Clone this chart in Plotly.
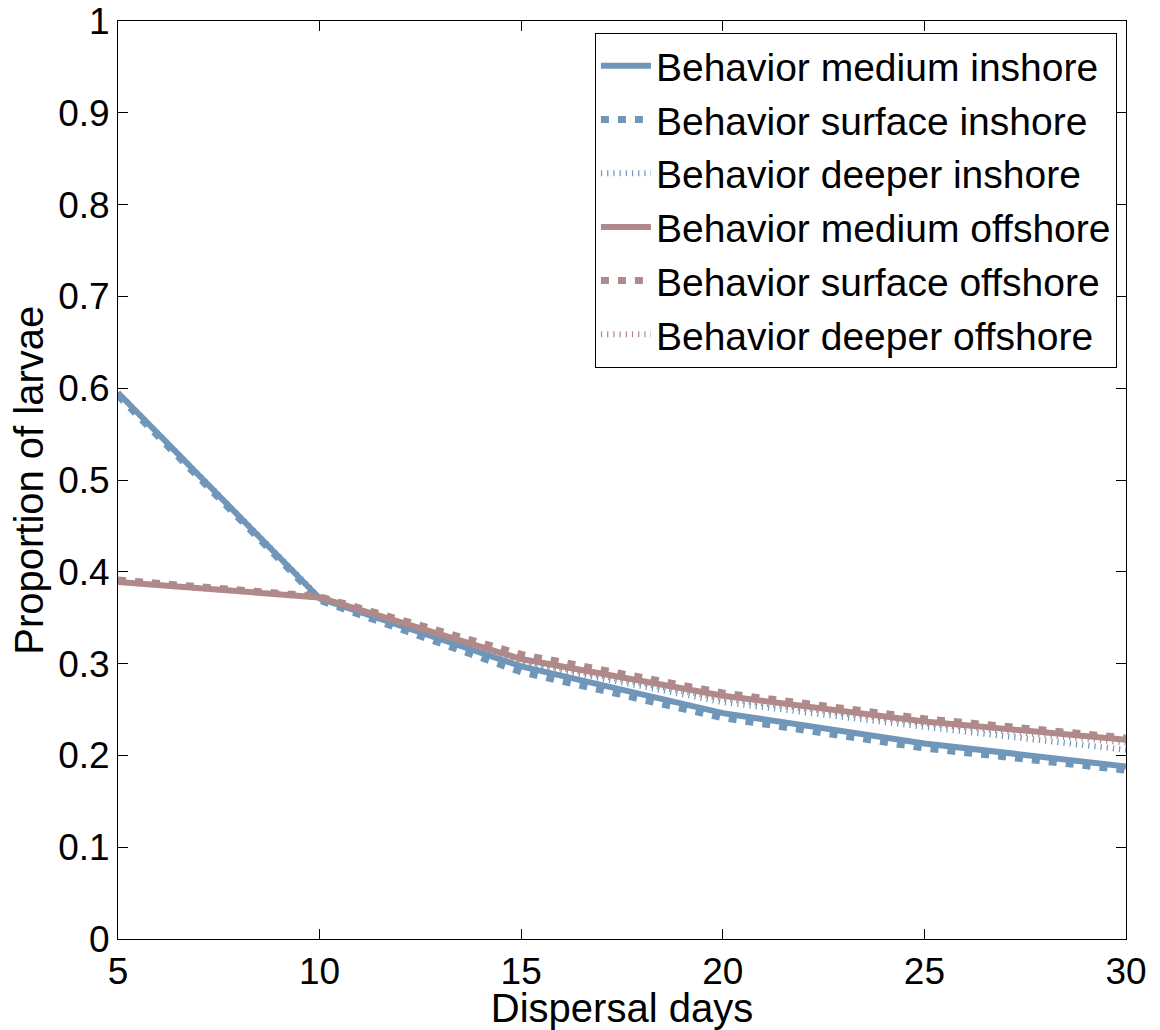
import plotly.graph_objects as go

days = [5, 10, 15, 20, 25, 30]
medium_inshore = [0.595, 0.371, 0.297, 0.246, 0.213, 0.188]
surface_inshore = [0.592, 0.369, 0.291, 0.241, 0.208, 0.184]
deeper_inshore = [0.595, 0.372, 0.301, 0.258, 0.231, 0.206]
medium_offshore = [0.389, 0.372, 0.305, 0.265, 0.237, 0.217]
surface_offshore = [0.391, 0.373, 0.310, 0.268, 0.240, 0.219]
deeper_offshore = [0.389, 0.372, 0.303, 0.262, 0.235, 0.214]

y_ticks = [0, 0.1, 0.2, 0.3, 0.4, 0.5, 0.6, 0.7, 0.8, 0.9, 1]
y_ticktext = ["0", "0.1", "0.2", "0.3", "0.4", "0.5", "0.6", "0.7", "0.8", "0.9", "1"]
x_ticks = [5, 10, 15, 20, 25, 30]

BLUE = "rgb(112,151,186)"
RED = "rgb(176,138,138)"
FONT = "Liberation Sans, Arial, sans-serif"

series = [
    ("Behavior medium inshore", medium_inshore, BLUE, "solid", 6),
    ("Behavior surface inshore", surface_inshore, BLUE, "8px,9px", 7),
    ("Behavior deeper inshore", deeper_inshore, BLUE, "1.2px,5px", 6),
    ("Behavior medium offshore", medium_offshore, RED, "solid", 6),
    ("Behavior surface offshore", surface_offshore, RED, "8px,9px", 7),
    ("Behavior deeper offshore", deeper_offshore, RED, "1.2px,5px", 6),
]

fig = go.Figure()
for name, vals, color, dash, w in series:
    fig.add_trace(go.Scatter(
        x=days, y=vals, mode="lines", name=name,
        line=dict(color=color, dash=dash, width=w),
    ))

axis_common = dict(
    showgrid=False, zeroline=False, showline=True, linecolor="black",
    linewidth=1, mirror="ticks", ticks="inside", ticklen=10,
    tickcolor="black", tickfont=dict(family=FONT, size=37, color="black"),
    automargin=False, ticklabeloverflow="allow",
)

fig.update_layout(
    width=1160, height=1030,
    margin=dict(l=118, r=34, t=21, b=91),
    paper_bgcolor="white", plot_bgcolor="white",
    font=dict(family=FONT, color="black"),
    showlegend=True,
    legend=dict(
        x=0.991, y=0.987, xanchor="right", yanchor="top",
        bgcolor="white", bordercolor="black", borderwidth=1,
        font=dict(family=FONT, size=39, color="black"),
        tracegroupgap=0, itemwidth=50,
    ),
    xaxis=dict(
        range=[5, 30], tickvals=x_ticks,
        title=dict(text="Dispersal days", font=dict(family=FONT, size=40)),
        **axis_common,
    ),
    yaxis=dict(
        range=[0, 1], tickvals=y_ticks, ticktext=y_ticktext,
        **axis_common,
    ),
    annotations=[dict(
        text="Proportion of larvae", textangle=-90, showarrow=False,
        xref="paper", yref="paper", x=-0.0885, y=0.5,
        xanchor="center", yanchor="middle",
        font=dict(family=FONT, size=40, color="black"),
    )],
)

fig.write_html("out.html", config={"displayModeBar": False},
               post_script="document.body.style.margin='0';")
